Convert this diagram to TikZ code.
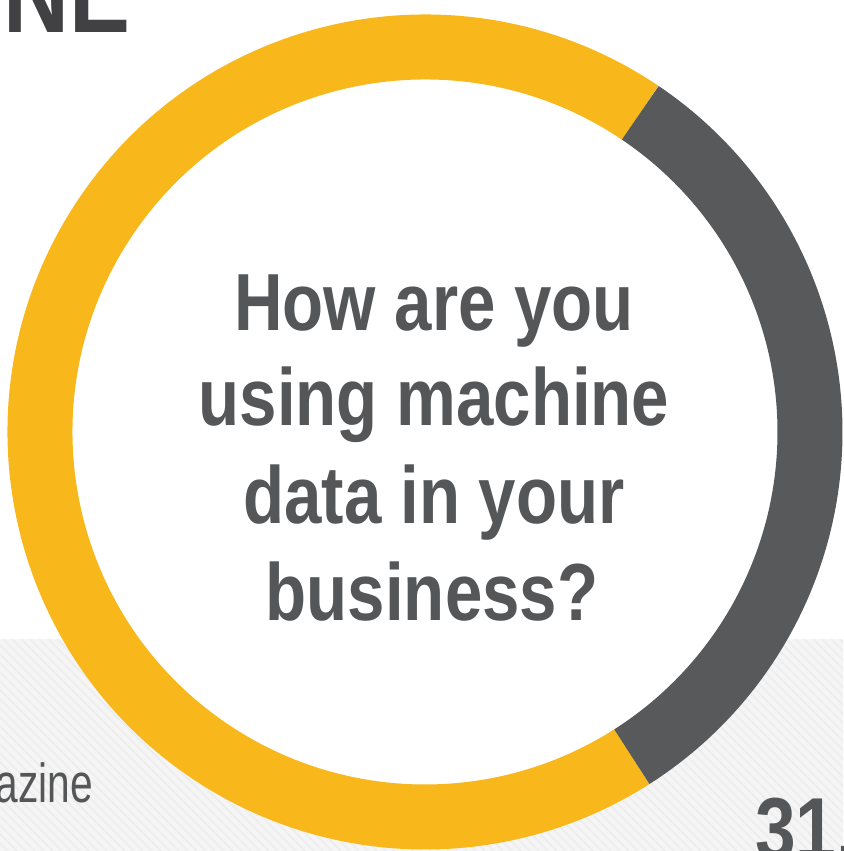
\documentclass[tikz,border=0pt]{standalone}
\usepackage{fontspec}
\newfontfamily\condfont[FakeStretch=0.83]{Liberation Sans}
\newfontfamily\condreg[FakeStretch=0.74]{Liberation Sans}
\definecolor{ringyellow}{HTML}{F8B81B}
\definecolor{ringgray}{HTML}{58595B}
\definecolor{textgray}{HTML}{555658}
\definecolor{titlegray}{HTML}{414042}
\definecolor{bandgray}{HTML}{F5F5F5}
\definecolor{stripegray}{HTML}{EEEEEE}
\tikzset{
  ring/.style={line width=65pt},
  question/.style={font=\condfont\bfseries\fontsize{81}{97}\selectfont, text=textgray, inner sep=0pt, anchor=base},
}
\begin{document}
\begin{tikzpicture}[x=1pt,y=1pt]
\useasboundingbox (0,0) rectangle (843,-851);
\clip (0,0) rectangle (843,-851);
\fill[white] (0,0) rectangle (843,-851);
% patterned band
\fill[bandgray] (0,-639) rectangle (843,-851);
\begin{scope}
  \clip (0,-639) rectangle (843,-851);
  \foreach \i in {-240,-231,...,860}
    \draw[stripegray, line width=2pt] (\i,-639) -- ++(212,-212);
\end{scope}
% donut
\coordinate (c) at (425,-432);
\fill[white] (c) circle[radius=352.5];
\draw[ring, ringyellow] (c) ++(56:385) arc[start angle=56, end angle=302.5, radius=385];
\draw[ring, ringgray] (c) ++(-57.5:385) arc[start angle=-57.5, end angle=56, radius=385];
% question
\node[question] (q1) at (434,-330) {How are you};
\node[question] (q2) at (434,-425) {using machine};
\node[question] (q3) at (434,-523) {data in your};
\node[question] (q4) at (432,-620) {business?};
% cropped texts
\node[font=\condfont\bfseries\fontsize{110}{120}\selectfont, text=titlegray, inner sep=0pt, anchor=base east] (title) at (131,-33) {NE};
\node[font=\condreg\fontsize{55}{60}\selectfont, text=textgray, inner sep=0pt, anchor=base east] (mag) at (93,-802) {azine};
\node[font=\condfont\bfseries\fontsize{88}{96}\selectfont, text=textgray, inner sep=0pt, anchor=base west] (pct) at (755,-859) {31.};
\end{tikzpicture}
\end{document}
